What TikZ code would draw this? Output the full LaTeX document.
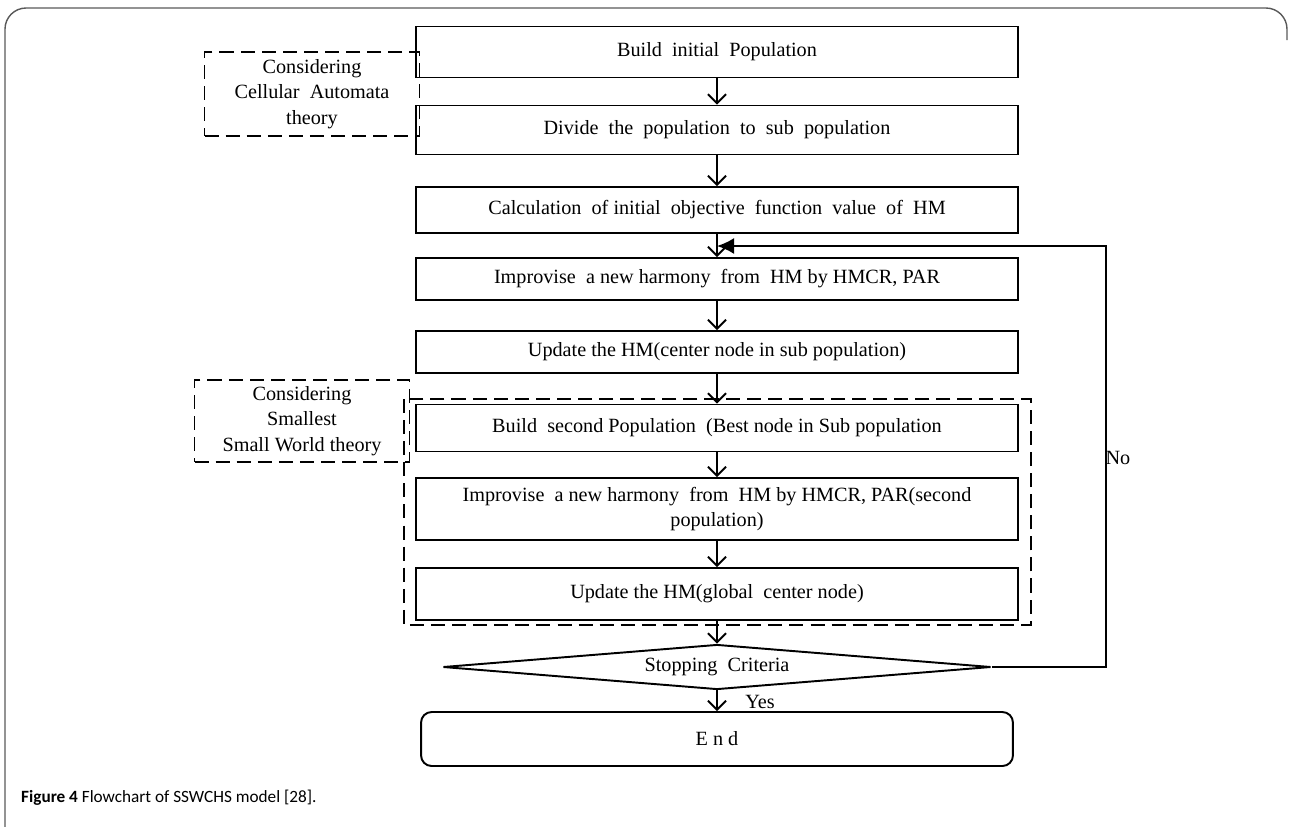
\documentclass[tikz,border=0pt]{standalone}
\usepackage{fontspec}
\setmainfont{Liberation Serif}
\newfontfamily\capfont{Carlito}
\usetikzlibrary{shapes.geometric,arrows.meta}

\begin{document}
\begin{tikzpicture}[x=0.02cm, y=-0.02cm,
    box/.style={draw, line width=1.1pt, minimum width=12.04cm, inner sep=2pt,
      align=center, font=\fontsize{11.5}{14}\selectfont},
    note/.style={draw, line width=1.1pt, dash pattern=on 8pt off 4pt,
      minimum width=4.3cm, align=center, font=\fontsize{11.5}{14.5}\selectfont},
    flow/.style={line width=1.1pt, -{Straight Barb[length=1.8mm,width=3.6mm]}},
    back/.style={line width=1.1pt, -{Latex[length=3.4mm,width=3.2mm]}}]
  \useasboundingbox (0,0) rectangle (1289,826);
  % frame of the figure
  \draw[gray!70!black, line width=0.8pt, rounded corners=12] (5,830) -- (5,8) -- (1287,8) -- (1287,40);

  \node (A) at (717,52)[box, minimum height=1.02cm]{Build~ initial~ Population};
  \node (B) at (717,130)[box, minimum height=0.98cm]{Divide~ the~ population~ to~ sub~ population};
  \node (C) at (717,210)[box, minimum height=0.92cm]{Calculation~ of initial~ objective~ function~ value~ of~ HM};
  \node (D) at (717,279)[box, minimum height=0.84cm]{Improvise~ a new harmony~ from~ HM by HMCR, PAR};
  \node (E) at (717,352)[box, minimum height=0.84cm]{Update the HM(center node in sub population)};
  \node (F) at (717,428)[box, minimum height=0.94cm]{Build~ second Population~ (Best node in Sub population};
  \node (G) at (717,509)[box, minimum height=1.24cm]{Improvise~ a new harmony~ from~ HM by HMCR, PAR(second\\population)};
  \node (H) at (717,594)[box, minimum height=1.04cm]{Update the HM(global~ center node)};
  \node (S) at (717,667)[draw, diamond, aspect=12.2, line width=1.1pt, minimum width=10.96cm,
    minimum height=0.9cm, inner sep=0pt, font=\fontsize{11.5}{14}\selectfont]{Stopping~ Criteria};
  \node (Z) at (717,739)[draw, line width=1.1pt, rounded corners=6, minimum width=11.84cm,
    minimum height=1.08cm, font=\fontsize{11.5}{14}\selectfont]{E n d};

  % theory notes
  \node (P) at (312,94)[note, minimum height=1.68cm]{Considering\\Cellular~ Automata\\theory};
  \node (Q) at (302,421)[note, minimum height=1.64cm]{Considering\\Smallest\\Small World theory};
  \draw[line width=1.1pt, dash pattern=on 8pt off 4pt] (404,399) rectangle (1031,625);

  \foreach \a/\b in {A/B, B/C, C/D, D/E, E/F, F/G, G/H, H/S, S/Z}{
    \draw[flow] (\a.south) -- (\b.north);
  }
  \coordinate (R) at (717,246);
  \draw[back] (S.east) -- ++(114,0) |- (R);
  \node (N) at (1118,458){\fontsize{11.5}{14}\selectfont No};
  \node (Y) at (760,702){\fontsize{11.5}{14}\selectfont Yes};

  \node (T) at (15,798)[right]{\capfont\fontsize{9.8}{12}\selectfont\textbf{Figure 4} Flowchart of SSWCHS model [28].};
\end{tikzpicture}
\end{document}
